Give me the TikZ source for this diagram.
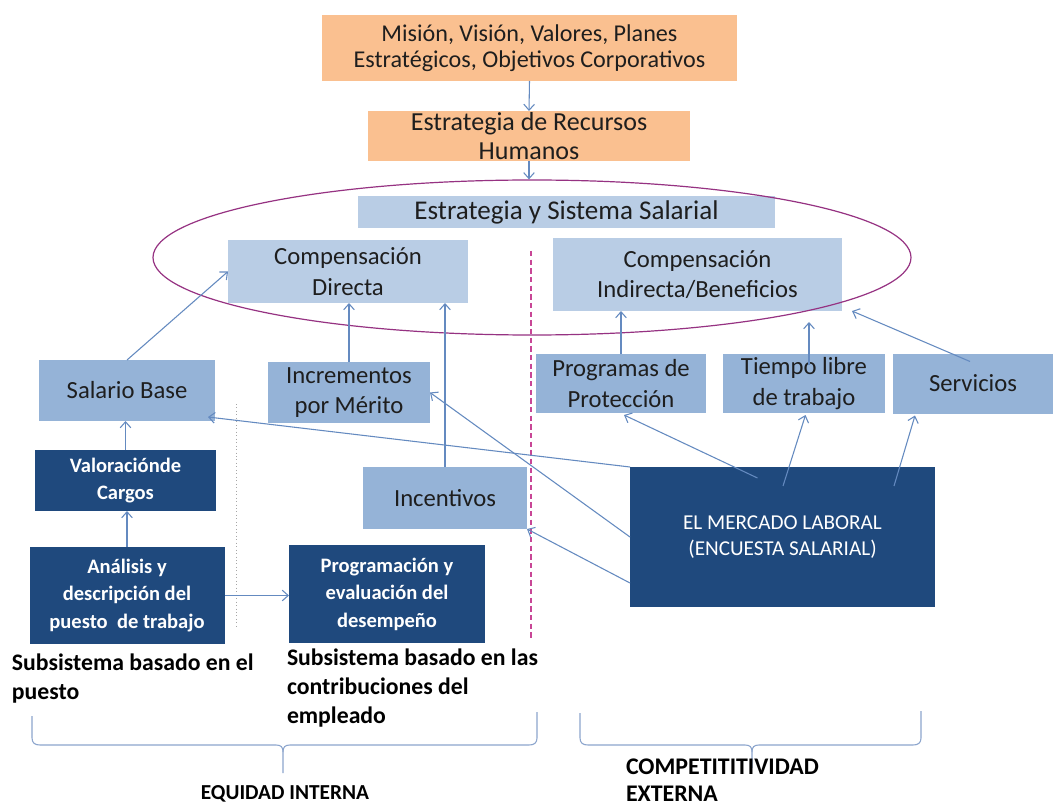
\documentclass[tikz,border=0pt]{standalone}
\usepackage{fontspec}
\setmainfont{Carlito}
\usetikzlibrary{arrows.meta,calc,shapes.geometric}

\definecolor{orng}{RGB}{250,192,144}
\definecolor{paleblue}{RGB}{185,205,229}
\definecolor{midblue}{RGB}{149,179,215}
\definecolor{navy}{RGB}{31,73,125}
\definecolor{linkblue}{RGB}{100,138,192}
\definecolor{ringpurple}{RGB}{150,50,130}
\definecolor{splitpink}{RGB}{200,70,150}
\definecolor{bracegray}{RGB}{140,165,205}
\definecolor{ink}{RGB}{30,30,30}

\tikzset{
  px/.style 2 args={minimum width=#1*0.75pt, minimum height=#2*0.75pt},
  base/.style={inner sep=0pt, outer sep=0pt, align=center, text=ink},
  orangebox/.style={base, fill=orng, font=\fontsize{18.1}{19.5}\selectfont},
  palebox/.style={base, fill=paleblue, font=\fontsize{18.5}{23}\selectfont},
  midbox/.style={base, fill=midblue, font=\fontsize{18.5}{23}\selectfont},
  navybox/.style={base, fill=navy, text=white, font=\bfseries\fontsize{15.4}{20.6}\selectfont},
  link/.style={draw=linkblue, line width=0.8pt, -{Straight Barb[length=4.5pt,width=8pt]}},
  note/.style={inner sep=0pt, outer sep=0pt, align=left, anchor=north west, text=black,
    font=\bfseries\fontsize{17.8}{21.8}\selectfont},
  bracepath/.style={draw=bracegray, line width=0.8pt},
}

\begin{document}
\begin{tikzpicture}[x=0.75pt, y=-0.75pt]
\useasboundingbox (0,0) rectangle (1053,809);
\fill[white] (0,0) rectangle (1053,809);

% strategy chain
\node[orangebox, px={415}{66}] (mision) at (529.5,48)
  {Misión, Visión, Valores, Planes\\Estratégicos, Objetivos Corporativos};
\node[orangebox, px={322}{50}, font=\fontsize{19.5}{21.7}\selectfont] (rrhh) at (529,136)
  {Estrategia de Recursos\\Humanos};

% salary system
\node[palebox, px={417}{32}, font=\fontsize{20.3}{23}\selectfont] (ess) at (566.5,212.5)
  {Estrategia y Sistema Salarial};
\node[palebox, px={240}{63}] (cdir) at (348,271.5) {Compensación\\Directa};
\node[palebox, px={289}{73}] (cind) at (697.5,274.5) {Compensación\\Indirecta/Beneficios};

% separators
\draw[splitpink, line width=0.9pt, dash pattern=on 4pt off 2.5pt] (531,251) -- (531,640);
\draw[gray!70, line width=0.6pt, dotted] (236,404) -- (236,629);

\node[draw=ringpurple, line width=0.9pt, ellipse, inner sep=0pt, px={758}{155}] (ring) at (532,257.5) {};

% components
\node[midbox, px={176}{61}] (salario) at (127,390.5) {Salario Base};
\node[midbox, px={162}{61}] (incr) at (349,392.5) {Incrementos\\por Mérito};
\node[midbox, px={164}{62}] (incent) at (445,498) {Incentivos};
\node[midbox, px={170}{59}] (prog) at (621,383.5) {Programas de\\Protección};
\node[midbox, px={162}{59}] (tiempo) at (804,383.5) {Tiempo libre\\de trabajo};
\node[midbox, px={160}{60}] (serv) at (973,383.5) {Servicios};

\node[navybox, px={181}{61}] (valor) at (125.5,480.5) {Valoraciónde\\Cargos};
\node[navybox, px={195}{97}] (anal) at (127,595.5) {Análisis y\\descripción del\\puesto\ \ de trabajo};
\node[navybox, px={196}{98}] (peval) at (387,594) {Programación y\\evaluación del\\desempeño};
\node[navybox, px={305}{140}, font=\fontsize{15.9}{19.5}\selectfont] (mercado) at (782.5,537)
  {EL MERCADO LABORAL\\(ENCUESTA SALARIAL)};

% free arrow ends
\coordinate (tiempotip) at (809,322);
\coordinate (servtip) at ($(cind.south east)+(10,0)$);

% connectors
\draw[link] (mision.south) -- (rrhh.north);
\draw[link] (rrhh.south) -- (rrhh.south |- ring.north);
\draw[link] (salario.north) -- (cdir.west);
\draw[link] (incr.north) -- (incr.north |- cdir.south);
\draw[link] (incent.north) -- (incent.north |- cdir.south);
\draw[link] (prog.north) -- (prog.north |- cind.south);
\draw[link] ($(tiempo.north)+(5,11)$) -- (tiempotip);
\draw[link] ($(serv.north)+(-3,8)$) -- (servtip);
\draw[link] (valor.north) -- (valor.north |- salario.south);
\draw[link] (anal.north) -- (anal.north |- valor.south);
\draw[link] (anal.east) -- (anal.east -| peval.west);

\draw[link] (mercado.north west) -- ($(salario.south east)+(-7,-4)$);
\draw[link] (mercado.west) -- (incr.east);
\draw[link] ($(mercado.west)+(0,46)$) -- (incent.south east);
\draw[link] ($(mercado.north)+(-25,11)$) -- ($(prog.south)+(3,2)$);
\draw[link] ($(mercado.north)+(0.5,19)$) -- ($(tiempo.south)+(1.5,2)$);
\draw[link] ($(mercado.north)+(111.5,19)$) -- ($(serv.south west)+(22,2)$);

% captions
\node[note] (subpuesto) at (12,654) {Subsistema basado en el\\puesto};
\node[note] (subcontrib) at (287,649) {Subsistema basado en las\\contribuciones del\\empleado};

% braces
\path[bracepath] (32,716) -- (32,738) .. controls (32,743) and (35,745) .. (40,745)
  -- (276,745) .. controls (281,745) and (283,747) .. (283,752) -- (283,773);
\path[bracepath] (537,712) -- (537,738) .. controls (537,743) and (534,745) .. (529,745)
  -- (290,745) .. controls (285,745) and (283,747) .. (283,752);
\path[bracepath] (580,713) -- (580,738) .. controls (580,743) and (583,745) .. (588,745)
  -- (745,745) .. controls (750,745) and (752,747) .. (752,752) -- (752,768);
\path[bracepath] (921,711) -- (921,738) .. controls (921,743) and (918,745) .. (913,745)
  -- (759,745) .. controls (754,745) and (752,747) .. (752,752);

\node[note, anchor=north, align=center, font=\bfseries\fontsize{16}{20}\selectfont] (equidad) at (285,786)
  {EQUIDAD INTERNA};
\node[note, font=\bfseries\fontsize{17.9}{20}\selectfont] (compet) at (626,759)
  {COMPETITITIVIDAD\\EXTERNA};
\end{tikzpicture}
\end{document}
